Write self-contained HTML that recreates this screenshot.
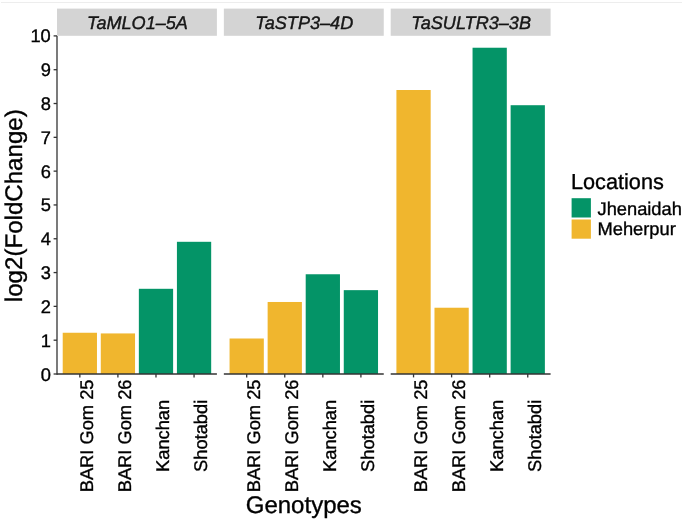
<!DOCTYPE html><html><head><meta charset="utf-8"><style>html,body{margin:0;padding:0;background:#fff;width:685px;height:520px;overflow:hidden}svg{display:block;will-change:transform}text{font-family:"Liberation Sans",sans-serif;text-rendering:geometricPrecision;stroke:currentColor;stroke-width:0.35px}</style></head><body>
<svg width="685" height="520" viewBox="0 0 685 520">
<rect x="0" y="0" width="685" height="520" fill="#fff"/>
<rect x="1" y="2" width="681" height="1" fill="#EDEDED"/>
<rect x="57.00" y="8.60" width="159.90" height="27.20" fill="#D4D4D4"/>
<text x="137.45" y="28.70" font-size="18.1" font-style="italic" fill="#1A1A1A" text-anchor="middle">TaMLO1–5A</text>
<rect x="62.71" y="332.75" width="34.26" height="41.25" fill="#F0B62E"/>
<line x1="79.84" y1="374.00" x2="79.84" y2="377.40" stroke="#333333" stroke-width="1.3"/>
<text transform="translate(92.84,435.90) rotate(-90)" font-size="18.3" fill="#000" text-anchor="middle">BARI Gom 25</text>
<rect x="100.78" y="333.43" width="34.26" height="40.57" fill="#F0B62E"/>
<line x1="117.91" y1="374.00" x2="117.91" y2="377.40" stroke="#333333" stroke-width="1.3"/>
<text transform="translate(130.91,435.90) rotate(-90)" font-size="18.3" fill="#000" text-anchor="middle">BARI Gom 26</text>
<rect x="138.85" y="288.80" width="34.26" height="85.20" fill="#049467"/>
<line x1="155.99" y1="374.00" x2="155.99" y2="377.40" stroke="#333333" stroke-width="1.3"/>
<text transform="translate(168.99,435.90) rotate(-90)" font-size="18.3" fill="#000" text-anchor="middle">Kanchan</text>
<rect x="176.92" y="241.80" width="34.26" height="132.20" fill="#049467"/>
<line x1="194.06" y1="374.00" x2="194.06" y2="377.40" stroke="#333333" stroke-width="1.3"/>
<text transform="translate(207.06,435.90) rotate(-90)" font-size="18.3" fill="#000" text-anchor="middle">Shotabdi</text>
<line x1="57.00" y1="374.00" x2="216.90" y2="374.00" stroke="#333333" stroke-width="1.3"/>
<rect x="223.85" y="8.60" width="159.90" height="27.20" fill="#D4D4D4"/>
<text x="304.30" y="28.70" font-size="18.1" font-style="italic" fill="#1A1A1A" text-anchor="middle">TaSTP3–4D</text>
<rect x="229.56" y="338.50" width="34.26" height="35.50" fill="#F0B62E"/>
<line x1="246.69" y1="374.00" x2="246.69" y2="377.40" stroke="#333333" stroke-width="1.3"/>
<text transform="translate(259.69,435.90) rotate(-90)" font-size="18.3" fill="#000" text-anchor="middle">BARI Gom 25</text>
<rect x="267.63" y="301.98" width="34.26" height="72.02" fill="#F0B62E"/>
<line x1="284.76" y1="374.00" x2="284.76" y2="377.40" stroke="#333333" stroke-width="1.3"/>
<text transform="translate(297.76,435.90) rotate(-90)" font-size="18.3" fill="#000" text-anchor="middle">BARI Gom 26</text>
<rect x="305.70" y="274.26" width="34.26" height="99.74" fill="#049467"/>
<line x1="322.84" y1="374.00" x2="322.84" y2="377.40" stroke="#333333" stroke-width="1.3"/>
<text transform="translate(335.84,435.90) rotate(-90)" font-size="18.3" fill="#000" text-anchor="middle">Kanchan</text>
<rect x="343.77" y="290.15" width="34.26" height="83.85" fill="#049467"/>
<line x1="360.91" y1="374.00" x2="360.91" y2="377.40" stroke="#333333" stroke-width="1.3"/>
<text transform="translate(373.91,435.90) rotate(-90)" font-size="18.3" fill="#000" text-anchor="middle">Shotabdi</text>
<line x1="223.85" y1="374.00" x2="383.75" y2="374.00" stroke="#333333" stroke-width="1.3"/>
<rect x="390.70" y="8.60" width="159.90" height="27.20" fill="#D4D4D4"/>
<text x="471.15" y="28.70" font-size="18.1" font-style="italic" fill="#1A1A1A" text-anchor="middle">TaSULTR3–3B</text>
<rect x="396.41" y="90.00" width="34.26" height="284.00" fill="#F0B62E"/>
<line x1="413.54" y1="374.00" x2="413.54" y2="377.40" stroke="#333333" stroke-width="1.3"/>
<text transform="translate(426.54,435.90) rotate(-90)" font-size="18.3" fill="#000" text-anchor="middle">BARI Gom 25</text>
<rect x="434.48" y="307.73" width="34.26" height="66.27" fill="#F0B62E"/>
<line x1="451.61" y1="374.00" x2="451.61" y2="377.40" stroke="#333333" stroke-width="1.3"/>
<text transform="translate(464.61,435.90) rotate(-90)" font-size="18.3" fill="#000" text-anchor="middle">BARI Gom 26</text>
<rect x="472.55" y="47.73" width="34.26" height="326.27" fill="#049467"/>
<line x1="489.69" y1="374.00" x2="489.69" y2="377.40" stroke="#333333" stroke-width="1.3"/>
<text transform="translate(502.69,435.90) rotate(-90)" font-size="18.3" fill="#000" text-anchor="middle">Kanchan</text>
<rect x="510.62" y="105.21" width="34.26" height="268.79" fill="#049467"/>
<line x1="527.76" y1="374.00" x2="527.76" y2="377.40" stroke="#333333" stroke-width="1.3"/>
<text transform="translate(540.76,435.90) rotate(-90)" font-size="18.3" fill="#000" text-anchor="middle">Shotabdi</text>
<line x1="390.70" y1="374.00" x2="550.60" y2="374.00" stroke="#333333" stroke-width="1.3"/>
<line x1="57.00" y1="35.90" x2="57.00" y2="374.65" stroke="#333333" stroke-width="1.3"/>
<line x1="53.60" y1="374.00" x2="57.00" y2="374.00" stroke="#333333" stroke-width="1.3"/>
<text x="50.80" y="380.50" font-size="18.3" fill="#000" text-anchor="end">0</text>
<line x1="53.60" y1="340.19" x2="57.00" y2="340.19" stroke="#333333" stroke-width="1.3"/>
<text x="50.80" y="346.69" font-size="18.3" fill="#000" text-anchor="end">1</text>
<line x1="53.60" y1="306.38" x2="57.00" y2="306.38" stroke="#333333" stroke-width="1.3"/>
<text x="50.80" y="312.88" font-size="18.3" fill="#000" text-anchor="end">2</text>
<line x1="53.60" y1="272.57" x2="57.00" y2="272.57" stroke="#333333" stroke-width="1.3"/>
<text x="50.80" y="279.07" font-size="18.3" fill="#000" text-anchor="end">3</text>
<line x1="53.60" y1="238.76" x2="57.00" y2="238.76" stroke="#333333" stroke-width="1.3"/>
<text x="50.80" y="245.26" font-size="18.3" fill="#000" text-anchor="end">4</text>
<line x1="53.60" y1="204.95" x2="57.00" y2="204.95" stroke="#333333" stroke-width="1.3"/>
<text x="50.80" y="211.45" font-size="18.3" fill="#000" text-anchor="end">5</text>
<line x1="53.60" y1="171.14" x2="57.00" y2="171.14" stroke="#333333" stroke-width="1.3"/>
<text x="50.80" y="177.64" font-size="18.3" fill="#000" text-anchor="end">6</text>
<line x1="53.60" y1="137.33" x2="57.00" y2="137.33" stroke="#333333" stroke-width="1.3"/>
<text x="50.80" y="143.83" font-size="18.3" fill="#000" text-anchor="end">7</text>
<line x1="53.60" y1="103.52" x2="57.00" y2="103.52" stroke="#333333" stroke-width="1.3"/>
<text x="50.80" y="110.02" font-size="18.3" fill="#000" text-anchor="end">8</text>
<line x1="53.60" y1="69.71" x2="57.00" y2="69.71" stroke="#333333" stroke-width="1.3"/>
<text x="50.80" y="76.21" font-size="18.3" fill="#000" text-anchor="end">9</text>
<line x1="53.60" y1="35.90" x2="57.00" y2="35.90" stroke="#333333" stroke-width="1.3"/>
<text x="50.80" y="42.40" font-size="18.3" fill="#000" text-anchor="end">10</text>
<text transform="translate(22.0,205.7) rotate(-90)" font-size="24.1" fill="#000" text-anchor="middle">log2(FoldChange)</text>
<text x="303.8" y="513" font-size="24.0" fill="#000" text-anchor="middle">Genotypes</text>
<text x="571.0" y="189.0" font-size="21.7" fill="#000">Locations</text>
<rect x="571.6" y="198.2" width="19.3" height="19.3" fill="#049467"/>
<rect x="571.6" y="219.5" width="19.3" height="19.2" fill="#F0B62E"/>
<text x="597.5" y="214.8" font-size="18.3" fill="#000">Jhenaidah</text>
<text x="597.5" y="235.1" font-size="18.3" fill="#000">Meherpur</text>
</svg></body></html>
